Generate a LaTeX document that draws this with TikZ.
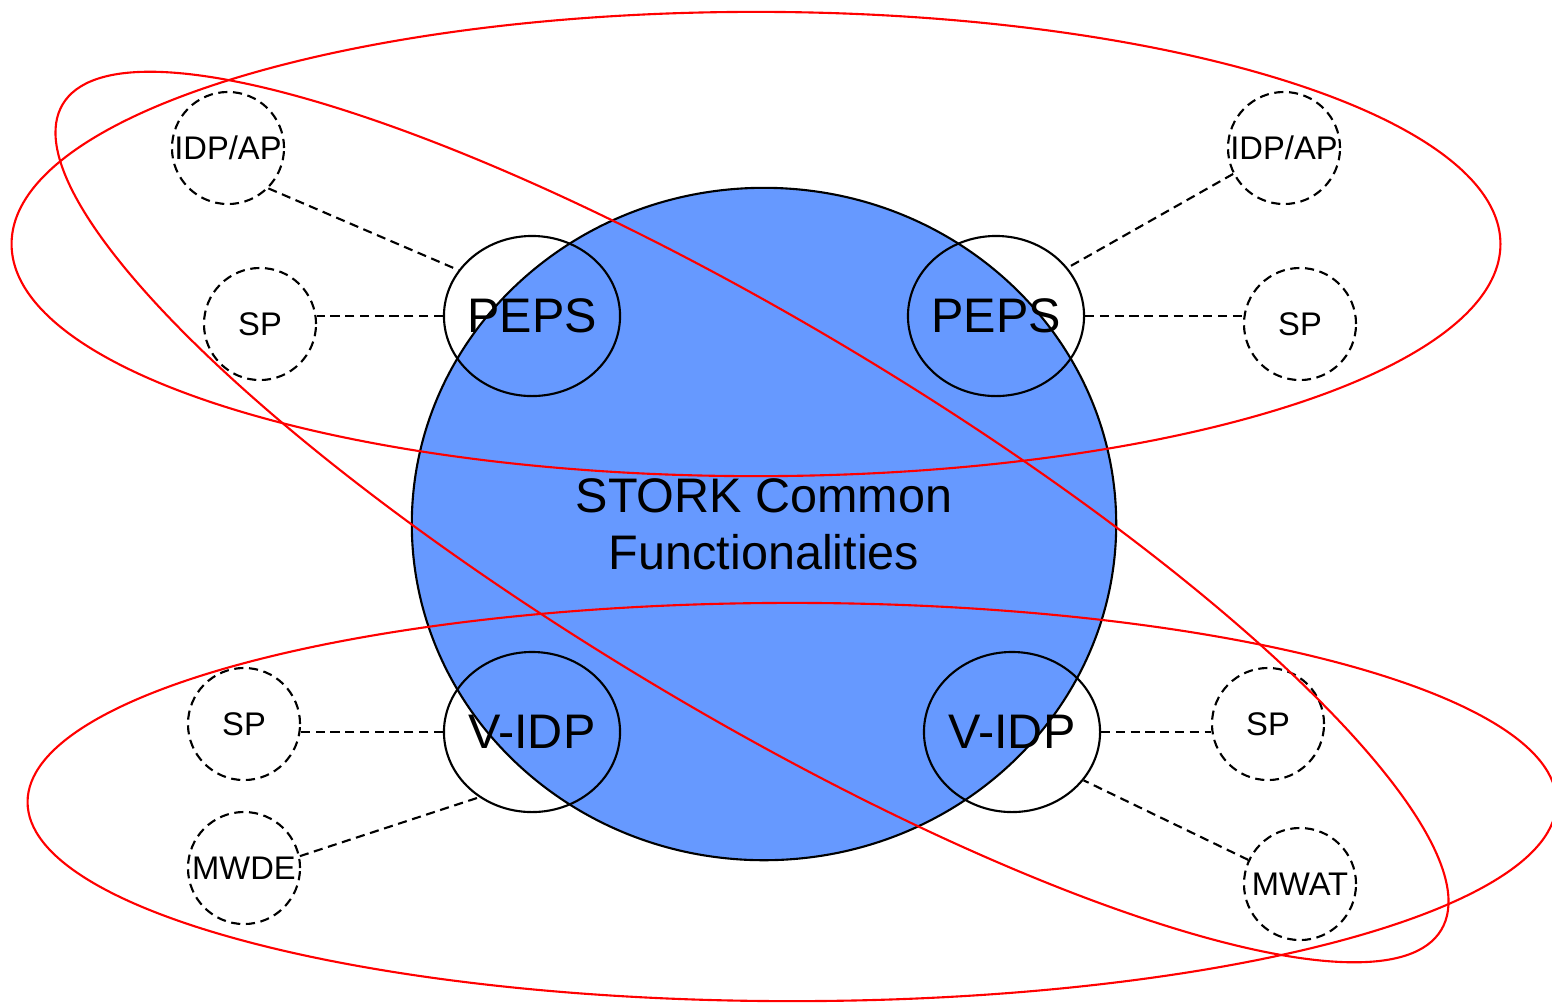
\documentclass[tikz,border=0pt]{standalone}
\usepackage{fontspec}
\setmainfont{Liberation Sans}
\usepackage{xcolor}
\usepackage{tikz}
\usetikzlibrary{shapes.geometric}
\definecolor{CoreBlue}{HTML}{6699FF}
\definecolor{RingRed}{HTML}{FF0000}
\begin{document}
\begin{tikzpicture}[x=0.01cm, y=-0.01cm, line width=0.6pt,
    core/.style={draw, fill=CoreBlue, ellipse, minimum width=7.04cm, minimum height=6.72cm, align=center, font=\fontsize{13.8}{16.2}\selectfont},
    gate/.style={draw, ellipse, minimum width=1.76cm, minimum height=1.6cm, inner sep=0pt, label={[font=\fontsize{13.8}{16}\selectfont]center:#1}},
    peer/.style={draw, dash pattern=on 2.6pt off 1.6pt, circle, minimum size=1.12cm, inner sep=0pt, font=\fontsize{9.3}{11}\selectfont},
    link/.style={draw, dash pattern=on 2.6pt off 1.6pt},
    ring/.style={draw=RingRed}]
      \useasboundingbox (0,0) rectangle (1552,1002);
      % Nodes
      \node[core] (core) at (764,524) {STORK Common\\Functionalities};
      \node[gate=PEPS] (peps1) at (532,316) {};
      \node[gate=PEPS] (peps2) at (996,316) {};
      \node[gate=V-IDP] (vidp1) at (532,732) {};
      \node[gate=V-IDP] (vidp2) at (1012,732) {};
      \node[peer] (idp1) at (228,148) {IDP/AP};
      \node[peer] (sp1) at (260,324) {SP};
      \node[peer] (idp2) at (1284,148) {IDP/AP};
      \node[peer] (sp2) at (1300,324) {SP};
      \node[peer] (sp3) at (244,724) {SP};
      \node[peer] (mwde) at (244,868) {MWDE};
      \node[peer] (sp4) at (1268,724) {SP};
      \node[peer] (mwat) at (1300,884) {MWAT};
      % Links
      \draw[link] (idp1.-45) -- (peps1.148);
      \draw[link] (peps1.west) -- (peps1.west -| sp1.east);
      \draw[link] (idp2.207) -- (peps2.34);
      \draw[link] (peps2.east) -- (peps2.east -| sp2.west);
      \draw[link] (vidp1.west) -- (vidp1.west -| sp3.east);
      \draw[link] (mwde.12) -- (vidp1.231);
      \draw[link] (vidp2.east) -- (vidp2.east -| sp4.west);
      \draw[link] (mwat.155) -- (vidp2.-34);
      % Groups
      \draw[ring] (756,244) ellipse [x radius=7.44cm, y radius=2.32cm];
      \draw[ring] (792,802) ellipse [x radius=7.64cm, y radius=1.99cm];
      \draw[ring, rotate around={-30.92:(752,517)}] (752,517) ellipse [x radius=8.03cm, y radius=1.94cm];
    \end{tikzpicture}
\end{document}
